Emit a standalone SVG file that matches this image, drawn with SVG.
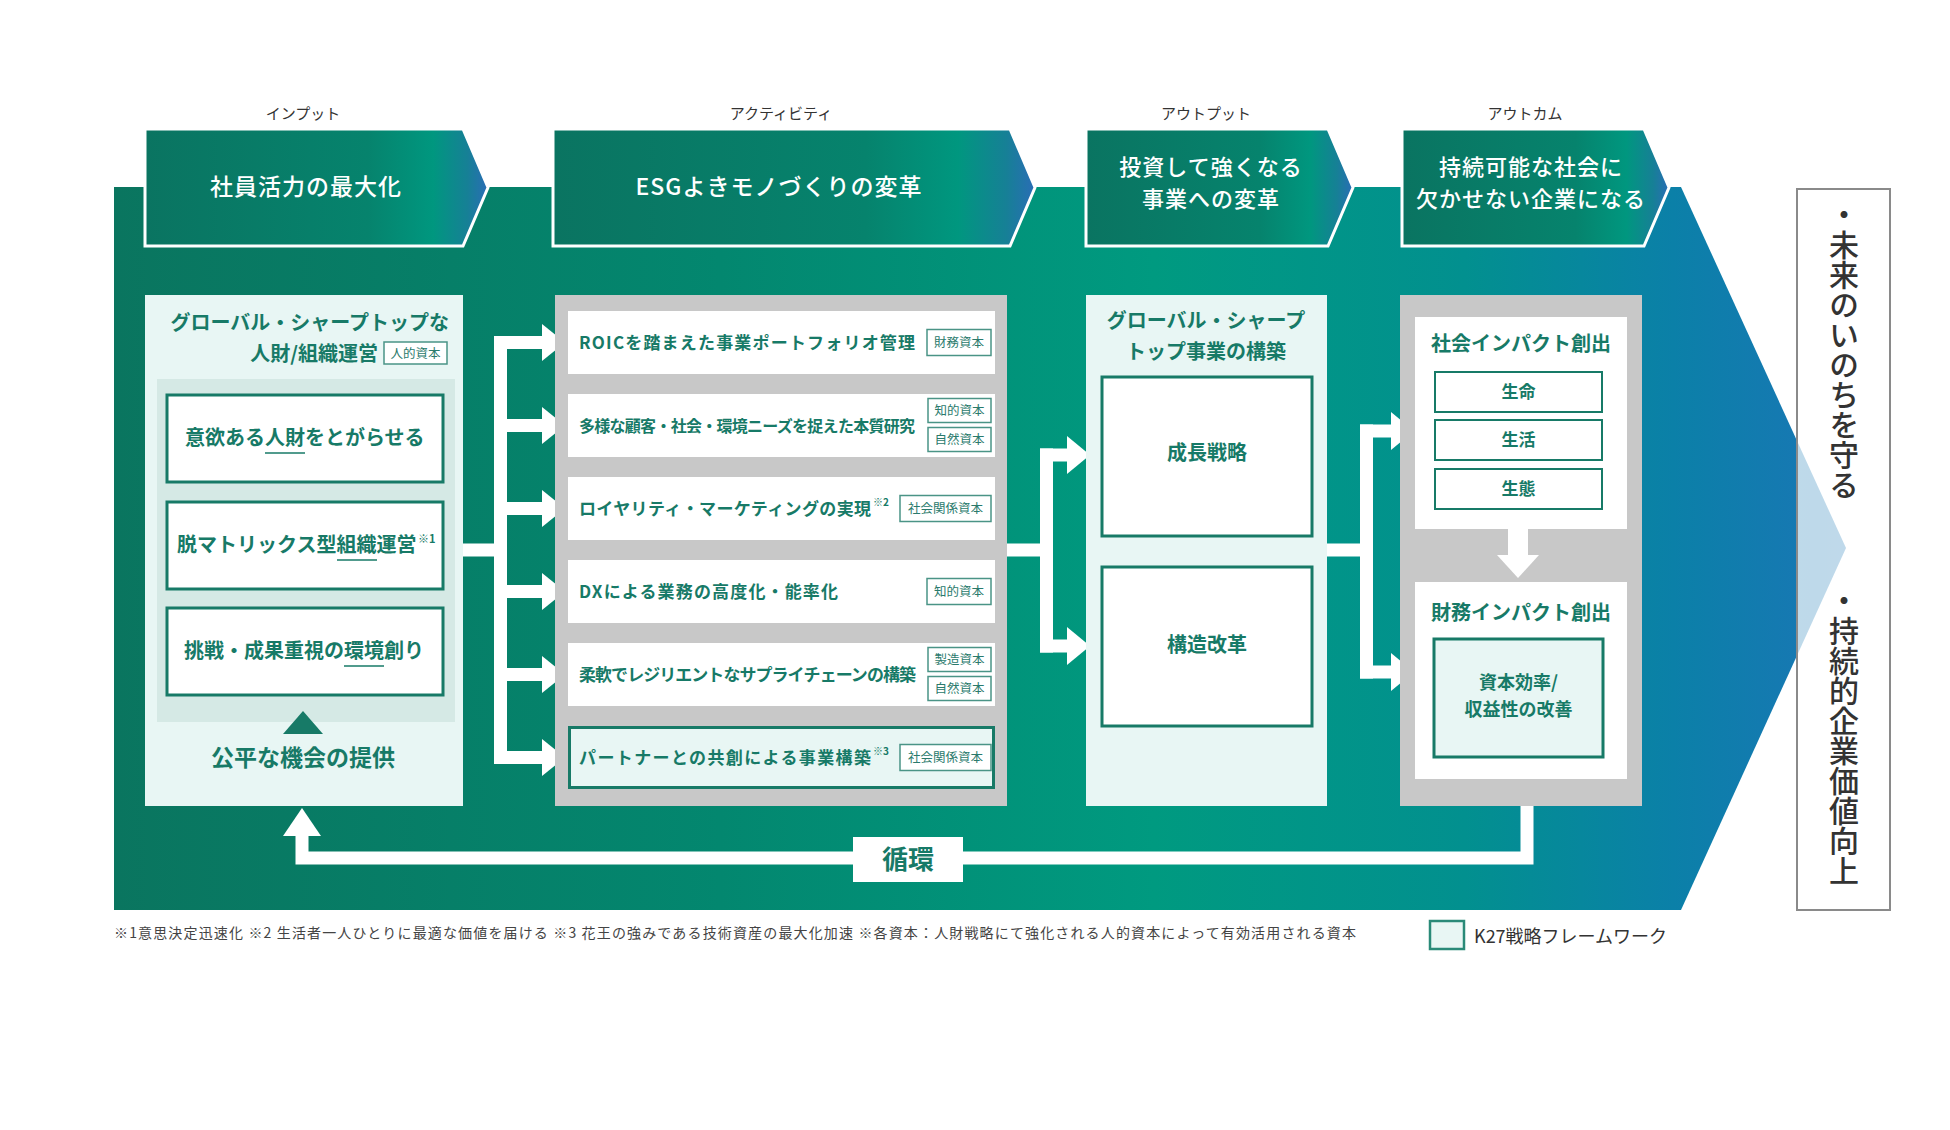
<svg xmlns="http://www.w3.org/2000/svg" width="1950" height="1130" viewBox="0 0 1950 1130">
<defs>
<linearGradient id="bgGrad" gradientUnits="userSpaceOnUse" x1="114" y1="0" x2="1846" y2="0">
<stop offset="0" stop-color="#0a755f"/>
<stop offset="0.35" stop-color="#03876f"/>
<stop offset="0.6" stop-color="#009a80"/>
<stop offset="0.78" stop-color="#02908f"/>
<stop offset="0.9" stop-color="#0b80a8"/>
<stop offset="1" stop-color="#1a76b6"/>
</linearGradient>
<linearGradient id="chev" x1="0" y1="0" x2="1" y2="0">
<stop offset="0" stop-color="#0a7461"/>
<stop offset="0.65" stop-color="#06836d"/>
<stop offset="0.84" stop-color="#00977f"/>
<stop offset="0.94" stop-color="#168096"/>
<stop offset="1" stop-color="#2a6db6"/>
</linearGradient>
<style>
text{font-family:"Noto Sans CJK JP","Noto Sans",sans-serif}
.lbl{font-size:15px;fill:#333;text-anchor:middle}
.chev{fill:url(#chev);stroke:#ffffff;stroke-width:3}
.hd{font-size:23px;fill:#fff;font-weight:500;text-anchor:middle;letter-spacing:1px}
.hd2{font-size:22px;fill:#fff;font-weight:500;text-anchor:middle;letter-spacing:1px}
.mint{fill:#e8f6f4}
.gray{fill:#c8c8c8}
.box{fill:#fff;stroke:#177a67;stroke-width:3}
.mbox{fill:#e8f6f4;stroke:#177a67;stroke-width:3}
.sbox{fill:#fff;stroke:#177a67;stroke-width:2}
.t{fill:#177a67;font-weight:700}
.c{text-anchor:middle}
.e{text-anchor:end}
.tag{fill:#fff;stroke:#4a9486;stroke-width:1.5}
.tagt{font-size:12.5px;fill:#2a7a6c;text-anchor:middle}
.row{fill:#fff}
.wh{fill:#fff}
.ul{stroke:#177a67;stroke-width:1.5}
</style>
</defs>
<rect width="1950" height="1130" fill="#fff"/>

<g id="background">
<polygon points="114,187 1681,187 1846,548 1681,910 114,910" fill="url(#bgGrad)"/>
</g>

<g id="header-input">
<text class="lbl" x="303" y="119">インプット</text>
<polygon class="chev" points="145,129 463,129 488,187.5 463,246 145,246"/>
<text class="hd" x="306" y="195">社員活力の最大化</text>
</g>
<g id="header-activity">
<text class="lbl" x="781" y="119">アクティビティ</text>
<polygon class="chev" points="553,129 1010,129 1035,187.5 1010,246 553,246"/>
<text class="hd" x="779" y="195">ESGよきモノづくりの変革</text>
</g>
<g id="header-output">
<text class="lbl" x="1206" y="119">アウトプット</text>
<polygon class="chev" points="1086,129 1328,129 1353,187.5 1328,246 1086,246"/>
<text class="hd2" x="1211" y="175">投資して強くなる</text>
<text class="hd2" x="1211" y="207">事業への変革</text>
</g>
<g id="header-outcome">
<text class="lbl" x="1525" y="119">アウトカム</text>
<polygon class="chev" points="1402,129 1644,129 1669,187.5 1644,246 1402,246"/>
<text class="hd2" x="1531" y="175">持続可能な社会に</text>
<text class="hd2" x="1531" y="207">欠かせない企業になる</text>
</g>

<g id="connectors">
<rect class="wh" x="463" y="543.5" width="44" height="13"/>
<rect class="wh" x="494" y="336" width="13" height="428"/>
<g id="arrows-c1">
<rect class="wh" x="494" y="336" width="50" height="13"/><polygon class="wh" points="542,324 565,342.5 542,361"/>
<rect class="wh" x="494" y="419" width="50" height="13"/><polygon class="wh" points="542,407 565,425.5 542,444"/>
<rect class="wh" x="494" y="502" width="50" height="13"/><polygon class="wh" points="542,490 565,508.5 542,527"/>
<rect class="wh" x="494" y="585" width="50" height="13"/><polygon class="wh" points="542,573 565,591.5 542,610"/>
<rect class="wh" x="494" y="668" width="50" height="13"/><polygon class="wh" points="542,656 565,674.5 542,693"/>
<rect class="wh" x="494" y="751" width="50" height="13"/><polygon class="wh" points="542,739 565,757.5 542,776"/>
</g>
<rect class="wh" x="1007" y="543.5" width="46" height="13"/>
<rect class="wh" x="1040" y="448.5" width="13" height="204"/>
<rect class="wh" x="1040" y="448.5" width="30" height="13"/><polygon class="wh" points="1067,436 1090,455 1067,474"/>
<rect class="wh" x="1040" y="639.5" width="30" height="13"/><polygon class="wh" points="1067,627 1090,646 1067,665"/>
<rect class="wh" x="1327" y="543.5" width="46" height="13"/>
<rect class="wh" x="1360" y="424.5" width="13" height="254"/>
<rect class="wh" x="1360" y="424.5" width="34" height="13"/><polygon class="wh" points="1391,412 1414,431 1391,450"/>
<rect class="wh" x="1360" y="665.5" width="34" height="13"/><polygon class="wh" points="1391,653 1414,672 1391,691"/>
<path d="M1527,806 V858 H302 V832" fill="none" stroke="#fff" stroke-width="13"/>
<polygon class="wh" points="283,836 321,836 302,808"/>
<rect class="wh" x="853" y="837" width="110" height="45"/>
<text class="t c" x="908" y="869" font-size="26">循環</text>
</g>

<g id="col-input">
<rect class="mint" x="145" y="295" width="318" height="511"/>
<text class="t e" x="449" y="330" font-size="20">グローバル・シャープトップな</text>
<text class="t e" x="378" y="361" font-size="20">人財/組織運営</text>
<rect class="tag" x="384" y="342" width="63" height="22"/>
<text class="tagt" x="415.5" y="357.5">人的資本</text>
<rect x="157" y="379" width="298" height="343" fill="#d5e9e5"/>
<g id="node-jinzai">
<rect class="box" x="167" y="395" width="276" height="87"/>
<text class="t" x="185" y="445" font-size="20">意欲ある人財をとがらせる</text>
<line class="ul" x1="265" y1="453" x2="305" y2="453"/>
</g>
<g id="node-soshiki">
<rect class="box" x="167" y="502" width="276" height="87"/>
<text class="t" x="177" y="552" font-size="20">脱マトリックス型組織運営</text>
<text class="t" x="418" y="543" font-size="11">※1</text>
<line class="ul" x1="337" y1="560" x2="377" y2="560"/>
</g>
<g id="node-kankyo">
<rect class="box" x="167" y="608" width="276" height="87"/>
<text class="t" x="184" y="658" font-size="20">挑戦・成果重視の環境創り</text>
<line class="ul" x1="344" y1="666" x2="384" y2="666"/>
</g>
<polygon points="303,711 283,734 323,734" fill="#177a67"/>
<text class="t c" x="303" y="766" font-size="23">公平な機会の提供</text>
</g>

<g id="col-activity">
<rect class="gray" x="555" y="295" width="452" height="511"/>
<g id="row1">
<rect class="row" x="568" y="311" width="427" height="63"/>
<text class="t" x="579" y="348.5" font-size="17" textLength="336">ROICを踏まえた事業ポートフォリオ管理</text>
<rect class="tag" x="927" y="329.5" width="64" height="26"/>
<text class="tagt" x="959" y="347">財務資本</text>
</g>
<g id="row2">
<rect class="row" x="568" y="394" width="427" height="63"/>
<text class="t" x="579" y="431.5" font-size="16" textLength="336">多様な顧客・社会・環境ニーズを捉えた本質研究</text>
<rect class="tag" x="928" y="398.5" width="63" height="24"/>
<text class="tagt" x="959.5" y="415">知的資本</text>
<rect class="tag" x="928" y="427.5" width="63" height="24"/>
<text class="tagt" x="959.5" y="444">自然資本</text>
</g>
<g id="row3">
<rect class="row" x="568" y="477" width="427" height="63"/>
<text class="t" x="579" y="514.5" font-size="17" textLength="292">ロイヤリティ・マーケティングの実現</text>
<text class="t" x="873" y="506" font-size="10">※2</text>
<rect class="tag" x="900" y="495.5" width="91" height="26"/>
<text class="tagt" x="945.5" y="513">社会関係資本</text>
</g>
<g id="row4">
<rect class="row" x="568" y="560" width="427" height="63"/>
<text class="t" x="579" y="597.5" font-size="17" textLength="259">DXによる業務の高度化・能率化</text>
<rect class="tag" x="927" y="578.5" width="64" height="26"/>
<text class="tagt" x="959" y="596">知的資本</text>
</g>
<g id="row5">
<rect class="row" x="568" y="643" width="427" height="63"/>
<text class="t" x="579" y="680.5" font-size="17" textLength="337">柔軟でレジリエントなサプライチェーンの構築</text>
<rect class="tag" x="928" y="647.5" width="63" height="24"/>
<text class="tagt" x="959.5" y="664">製造資本</text>
<rect class="tag" x="928" y="676.5" width="63" height="24"/>
<text class="tagt" x="959.5" y="693">自然資本</text>
</g>
<g id="row6">
<rect class="mbox" x="569.5" y="727.5" width="424" height="60"/>
<text class="t" x="579" y="763.5" font-size="17" textLength="292">パートナーとの共創による事業構築</text>
<text class="t" x="873" y="755" font-size="10">※3</text>
<rect class="tag" x="900" y="744.5" width="91" height="26"/>
<text class="tagt" x="945.5" y="762">社会関係資本</text>
</g>
</g>

<g id="col-output">
<rect class="mint" x="1086" y="295" width="241" height="511"/>
<text class="t c" x="1206" y="328" font-size="20">グローバル・シャープ</text>
<text class="t c" x="1206" y="359" font-size="20">トップ事業の構築</text>
<g id="node-seicho">
<rect class="box" x="1102" y="377" width="210" height="159"/>
<text class="t c" x="1207" y="460" font-size="20">成長戦略</text>
</g>
<g id="node-kozo">
<rect class="box" x="1102" y="567" width="210" height="159"/>
<text class="t c" x="1207" y="652" font-size="20">構造改革</text>
</g>
</g>

<g id="col-outcome">
<rect class="gray" x="1400" y="295" width="242" height="511"/>
<g id="node-social">
<rect class="wh" x="1415" y="317" width="212" height="212"/>
<text class="t c" x="1521" y="351" font-size="20">社会インパクト創出</text>
<rect class="sbox" x="1435" y="372" width="167" height="40"/>
<text class="t c" x="1518.5" y="398" font-size="17">生命</text>
<rect class="sbox" x="1435" y="420" width="167" height="40"/>
<text class="t c" x="1518.5" y="446" font-size="17">生活</text>
<rect class="sbox" x="1435" y="469" width="167" height="40"/>
<text class="t c" x="1518.5" y="495" font-size="17">生態</text>
</g>
<rect class="wh" x="1508" y="528" width="20" height="29"/>
<polygon class="wh" points="1497,555 1539,555 1518,578"/>
<g id="node-financial">
<rect class="wh" x="1415" y="582" width="212" height="197"/>
<text class="t c" x="1521" y="620" font-size="20">財務インパクト創出</text>
<rect class="mbox" x="1434" y="639" width="169" height="118"/>
<text class="t c" x="1518.5" y="689" font-size="18">資本効率/</text>
<text class="t c" x="1518.5" y="716" font-size="18">収益性の改善</text>
</g>
</g>

<g id="goal">
<rect x="1797" y="189" width="93" height="721" fill="#fff" fill-opacity="0.72" stroke="#8a8a8a" stroke-width="2"/>
<text x="1844" y="200" font-size="30" font-weight="500" fill="#333" style="writing-mode:vertical-rl">・未来のいのちを守る</text>
<text x="1844" y="586" font-size="30" font-weight="500" fill="#333" style="writing-mode:vertical-rl">・持続的企業価値向上</text>
</g>

<g id="footnote">
<text x="114" y="938" font-size="14" fill="#444" textLength="1242">※1意思決定迅速化 ※2 生活者一人ひとりに最適な価値を届ける ※3 花王の強みである技術資産の最大化加速 ※各資本：人財戦略にて強化される人的資本によって有効活用される資本</text>
</g>

<g id="legend">
<rect x="1430" y="921" width="34" height="28" fill="#e8f6f4" stroke="#2a8a78" stroke-width="2.5"/>
<text x="1474" y="943" font-size="18" fill="#333">K27戦略フレームワーク</text>
</g>
</svg>
